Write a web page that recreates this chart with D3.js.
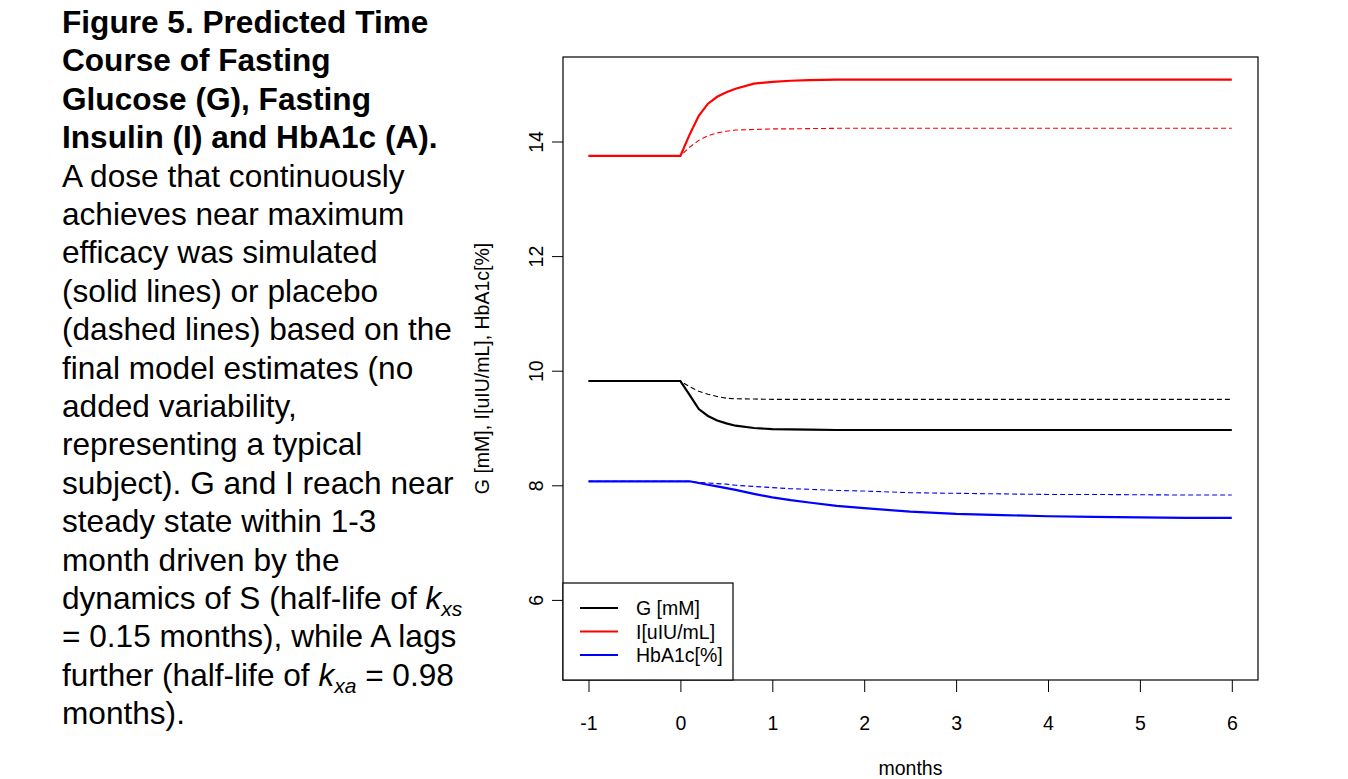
<!DOCTYPE html>
<html>
  <head>
    <meta charset="utf-8">
    <title>Figure 5</title>
    <script src="https://cdn.jsdelivr.net/npm/d3@7"></script>
    <style>
      body { margin: 0; background: #fff; }
      text { font-family: "Liberation Sans", Arial, sans-serif; }
    </style>
  </head>
  <body>
    <svg width="1348" height="779"></svg>

    <script>
      // time points (months)
      const months = [-1, 0, 0.1, 0.2, 0.3, 0.4, 0.5, 0.6, 0.8, 1.0, 1.2, 1.4, 1.7, 2.0, 2.5, 3, 3.5, 4, 4.5, 5, 5.5, 6];

      // drug (solid) and placebo (dashed)
      const gDrug    = [9.82, 9.82, 9.58, 9.33, 9.21, 9.13, 9.08, 9.04, 9.00, 8.98, 8.975, 8.97, 8.965, 8.965, 8.965, 8.965, 8.965, 8.965, 8.965, 8.965, 8.965, 8.965];
      const gPlacebo = [9.82, 9.82, 9.72, 9.64, 9.59, 9.55, 9.52, 9.51, 9.505, 9.50, 9.50, 9.50, 9.50, 9.50, 9.50, 9.50, 9.50, 9.50, 9.50, 9.50, 9.50, 9.50];
      const iDrug    = [13.75, 13.75, 14.12, 14.45, 14.66, 14.78, 14.86, 14.92, 15.01, 15.04, 15.06, 15.07, 15.08, 15.08, 15.08, 15.08, 15.08, 15.08, 15.08, 15.08, 15.08, 15.08];
      const iPlacebo = [13.75, 13.75, 13.90, 14.02, 14.10, 14.15, 14.18, 14.20, 14.21, 14.22, 14.22, 14.225, 14.23, 14.23, 14.23, 14.23, 14.23, 14.23, 14.23, 14.23, 14.23, 14.23];
      const aDrug    = [8.07, 8.07, 8.07, 8.04, 8.01, 7.98, 7.95, 7.92, 7.85, 7.79, 7.74, 7.70, 7.64, 7.60, 7.54, 7.50, 7.48, 7.46, 7.45, 7.44, 7.43, 7.43];
      const aPlacebo = [8.07, 8.07, 8.07, 8.05, 8.04, 8.03, 8.02, 8.00, 7.98, 7.96, 7.94, 7.93, 7.91, 7.90, 7.87, 7.86, 7.85, 7.84, 7.84, 7.835, 7.83, 7.83];

      const xTicks = [-1, 0, 1, 2, 3, 4, 5, 6];
      const yTicks = [6, 8, 10, 12, 14];

      const legendLabels = ["G [mM]", "I[uIU/mL]", "HbA1c[%]"];
      const legendColors = ["#000000", "#ff0000", "#0000ff"];

      const series = [
        { values: gDrug, color: "#000000", dashed: false },
        { values: gPlacebo, color: "#000000", dashed: true },
        { values: iDrug, color: "#ff0000", dashed: false },
        { values: iPlacebo, color: "#ff0000", dashed: true },
        { values: aDrug, color: "#0000ff", dashed: false },
        { values: aPlacebo, color: "#0000ff", dashed: true }
      ];

      const svg = d3.select("svg");
      const fs = 19.5;   // chart text size

      // ---- caption text on the left ----
      const caption = svg.append("g");
      const lineH = 38.4;
      const titleLines = ["Figure 5. Predicted Time", "Course of Fasting", "Glucose (G), Fasting", "Insulin (I) and HbA1c (A)."];
      titleLines.forEach((t, i) => {
        caption.append("text")
          .attr("x", 62).attr("y", 33 + i * lineH)
          .attr("font-size", 31.6).attr("font-weight", "bold")
          .text(t);
      });

      // body lines; parts: [text, italic?, subscript?]
      const bodyLines = [
        [["A dose that continuously"]],
        [["achieves near maximum"]],
        [["efficacy was simulated"]],
        [["(solid lines) or placebo"]],
        [["(dashed lines) based on the"]],
        [["final model estimates (no"]],
        [["added variability,"]],
        [["representing a typical"]],
        [["subject). G and I reach near"]],
        [["steady state within 1-3"]],
        [["month driven by the"]],
        [["dynamics of S (half-life of "], ["k", true], ["xs", true, true]],
        [["= 0.15 months), while A lags"]],
        [["further (half-life of "], ["k", true], ["xa", true, true], [" = 0.98"]],
        [["months)."]]
      ];
      bodyLines.forEach((parts, i) => {
        const t = caption.append("text")
          .attr("x", 62).attr("y", 33 + (i + 4) * lineH)
          .attr("font-size", 31.6);
        let sub = false;
        parts.forEach(p => {
          const ts = t.append("tspan").text(p[0]);
          if (p[1]) ts.attr("font-style", "italic");
          if (p[2]) { ts.attr("font-size", 21).attr("dy", 7); sub = true; }
          else if (sub) { ts.attr("dy", -7); sub = false; }
        });
      });

      // ---- chart ----
      const boxL = 563, boxR = 1258, boxT = 57, boxB = 680;

      const x = d3.scaleLinear().domain([-1, 6]).range([588.5, 1231.8]);
      const y = d3.scaleLinear().domain([8, 14]).range([485.3, 141.5]);

      const plot = svg.append("g");

      const line = vals => d3.line()
        .x((d, i) => x(months[i]))
        .y(d => y(d))(vals);

      plot.selectAll("path.series")
        .data(series)
        .enter()
        .append("path")
          .attr("class", "series")
          .attr("d", d => line(d.values))
          .attr("fill", "none")
          .attr("stroke", d => d.color)
          .attr("stroke-width", d => d.dashed ? 1.1 : 2.2)
          .attr("stroke-dasharray", d => d.dashed ? "5,3" : null);

      // box
      svg.append("rect")
        .attr("x", boxL).attr("y", boxT)
        .attr("width", boxR - boxL).attr("height", boxB - boxT)
        .attr("fill", "none").attr("stroke", "#000").attr("stroke-width", 1.2);

      // x axis
      const xAxis = svg.append("g")
        .attr("transform", `translate(0,${boxB})`)
        .call(d3.axisBottom(x).tickValues(xTicks).tickSize(12).tickPadding(24).tickFormat(d => String(d)));
      xAxis.select(".domain").remove();
      xAxis.selectAll("text").attr("font-size", fs).attr("fill", "#000");

      // y axis with rotated labels
      const yAxis = svg.append("g")
        .attr("transform", `translate(${boxL},0)`)
        .call(d3.axisLeft(y).tickValues(yTicks).tickSize(11).tickFormat(d => String(d)));
      yAxis.select(".domain").remove();
      yAxis.selectAll("text")
        .attr("font-size", fs)
        .attr("fill", "#000")
        .attr("x", null).attr("dy", null)
        .attr("text-anchor", "middle")
        .attr("transform", "translate(-26,0) rotate(-90)")
        .attr("y", 6);

      // axis titles
      svg.append("text")
        .attr("x", (boxL + boxR) / 2).attr("y", 775)
        .attr("text-anchor", "middle").attr("font-size", fs)
        .text("months");

      svg.append("text")
        .attr("transform", `translate(489,${(boxT + boxB) / 2}) rotate(-90)`)
        .attr("text-anchor", "middle").attr("font-size", fs)
        .text("G [mM], I[uIU/mL], HbA1c[%]");

      // legend
      const legend = svg.append("g").attr("transform", `translate(${boxL},583)`);
      legend.append("rect")
        .attr("width", 170).attr("height", boxB - 583)
        .attr("fill", "#fff").attr("stroke", "#000").attr("stroke-width", 1.2);
      legendLabels.forEach((lab, i) => {
        const ly = 25 + i * 23.5;
        legend.append("line")
          .attr("x1", 17).attr("x2", 55).attr("y1", ly).attr("y2", ly)
          .attr("stroke", legendColors[i]).attr("stroke-width", 2);
        legend.append("text")
          .attr("x", 73).attr("y", ly + 7)
          .attr("font-size", fs)
          .text(lab);
      });
    </script>
  </body>
</html>
